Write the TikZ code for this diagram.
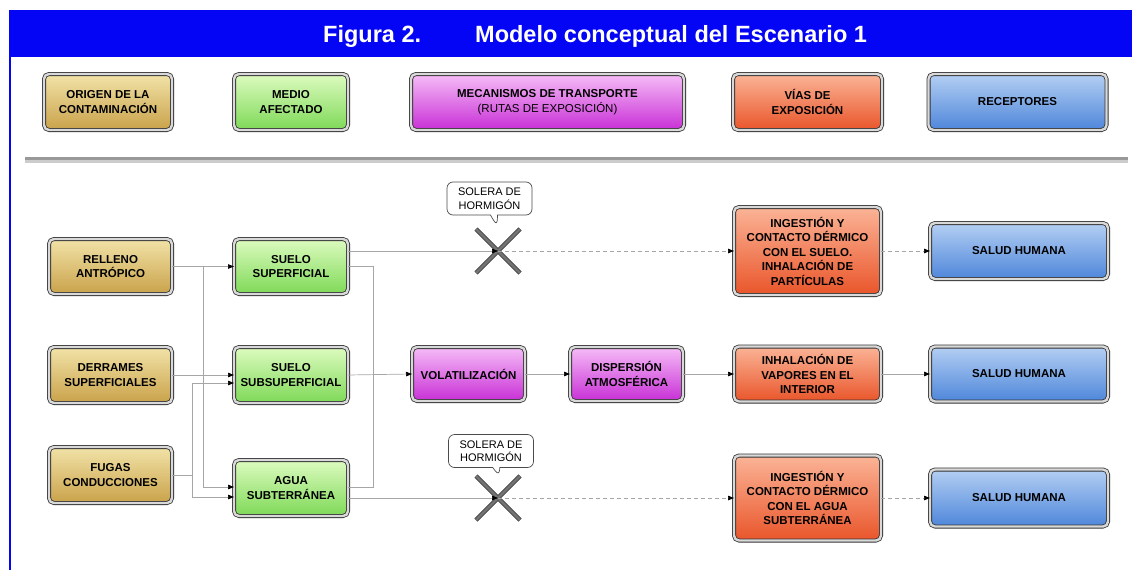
\documentclass[tikz,border=0pt]{standalone}
\usepackage{fontspec}
\setmainfont{Liberation Sans}
\usetikzlibrary{arrows.meta,positioning,shapes.callouts}

\definecolor{bannerblue}{HTML}{0505F5}
\definecolor{tanTop}{HTML}{F2E3A8}\definecolor{tanBot}{HTML}{C9A24A}
\definecolor{grnTop}{HTML}{DDFBC0}\definecolor{grnBot}{HTML}{7ED957}
\definecolor{magTop}{HTML}{F6BDF7}\definecolor{magBot}{HTML}{C82FD6}
\definecolor{orgTop}{HTML}{FBB497}\definecolor{orgBot}{HTML}{E9552A}
\definecolor{bluTop}{HTML}{B4CFF3}\definecolor{bluBot}{HTML}{4E86DA}

\tikzset{
  box/.style={draw=black!80, line width=0.8pt, double=black!15, double distance=2.4pt,
    rounded corners=5pt, inner sep=0pt, outer sep=0pt, align=center,
    font=\fontsize{11.5}{14.5}\selectfont\bfseries},
  origen/.style={box, top color=tanTop, bottom color=tanBot},
  medio/.style={box, top color=grnTop, bottom color=grnBot},
  transp/.style={box, top color=magTop, bottom color=magBot},
  vias/.style={box, top color=orgTop, bottom color=orgBot},
  recep/.style={box, top color=bluTop, bottom color=bluBot},
  conn/.style={draw=gray!70, line width=0.7pt},
  arr/.style={conn, -{Triangle[length=6pt,width=4.5pt,color=black]}},
  darr/.style={arr, dash pattern=on 4pt off 3pt},
  crossmark/.style={draw=black!75, line width=0.8pt, double=black!55, double distance=2.8pt},
  nota/.style={rectangle callout, draw=black!70, line width=0.7pt, rounded corners=6pt,
    fill=white, align=center, inner sep=0pt, minimum width=85pt, minimum height=33pt,
    font=\fontsize{11}{13.5}\selectfont},
  titletext/.style={text=white, font=\fontsize{23.5}{26}\selectfont\bfseries, inner sep=0pt}
}

\begin{document}
\begin{tikzpicture}[x=1pt, y=-1pt]
\useasboundingbox (0,0) rectangle (1132,570);

% banner
\fill[bannerblue] (9,10) rectangle (1132,57);
\fill[bannerblue] (9,57) rectangle (11,570);
\node[titletext, anchor=base west] (fig) at (323,42) {Figura 2.};
\node[titletext, anchor=base west] (tit) at (475,42) {Modelo conceptual del Escenario 1};

% legend
\node[origen, minimum width=128pt, minimum height=56pt] (lori) at (108,102) {ORIGEN DE LA\\CONTAMINACIÓN};
\node[medio, minimum width=114pt, minimum height=56pt] (lmed) at (291,102) {MEDIO\\AFECTADO};
\node[transp, minimum width=273pt, minimum height=56pt] (lmec) at (547.5,102) {MECANISMOS DE TRANSPORTE\\{\mdseries(RUTAS DE EXPOSICIÓN)}};
\node[vias, minimum width=149pt, minimum height=56pt] (lvia) at (807.5,102) {VÍAS DE\\EXPOSICIÓN};
\node[recep, minimum width=178pt, minimum height=56pt] (lrec) at (1017.5,102) {RECEPTORES};

% separator
\draw[gray!80, line width=3pt] (25,158.5) -- (1128,158.5);
\draw[gray!40, line width=3pt] (25,161.5) -- (1128,161.5);

% sources
\node[origen, minimum width=123pt, minimum height=55pt] (rel) at (110.5,266.5) {RELLENO\\ANTRÓPICO};
\node[origen, minimum width=123pt, minimum height=56pt] (der) at (110.5,375) {DERRAMES\\SUPERFICIALES};
\node[origen, minimum width=123pt, minimum height=56pt] (fug) at (110.5,475) {FUGAS\\CONDUCCIONES};

% media
\node[medio, minimum width=114pt, minimum height=55pt] (ssup) at (291,266.5) {SUELO\\SUPERFICIAL};
\node[medio, minimum width=114pt, minimum height=56pt] (ssub) at (291,375) {SUELO\\SUBSUPERFICIAL};
\node[medio, minimum width=114pt, minimum height=56pt] (agua) at (291,488) {AGUA\\SUBTERRÁNEA};

% transport
\node[transp, minimum width=113pt, minimum height=54pt] (vol) at (468.5,374) {VOLATILIZACIÓN};
\node[transp, minimum width=113pt, minimum height=54pt] (disp) at (626.5,374) {DISPERSIÓN\\ATMOSFÉRICA};

% exposure
\node[vias, minimum width=147pt, minimum height=88pt] (ing1) at (807.5,251) {INGESTIÓN Y\\CONTACTO DÉRMICO\\CON EL SUELO.\\INHALACIÓN DE\\PARTÍCULAS};
\node[vias, minimum width=147pt, minimum height=55pt] (inh) at (807.5,374) {INHALACIÓN DE\\VAPORES EN EL\\INTERIOR};
\node[vias, minimum width=147pt, minimum height=85pt] (ing2) at (807.5,498) {INGESTIÓN Y\\CONTACTO DÉRMICO\\CON EL AGUA\\SUBTERRÁNEA};

% receptors
\node[recep, minimum width=178pt, minimum height=56pt] (sal1) at (1019,251) {SALUD HUMANA};
\node[recep, minimum width=178pt, minimum height=55pt] (sal2) at (1019,374) {SALUD HUMANA};
\node[recep, minimum width=178pt, minimum height=57pt] (sal3) at (1019,498) {SALUD HUMANA};

% barriers
\coordinate (x1) at (498,251);
\coordinate (x2) at (498,498);
\node[nota, callout absolute pointer={(497,226)}] (sol1) at (489.5,198.5) {SOLERA DE\\HORMIGÓN};
\node[nota, callout absolute pointer={(499,476)}] (sol2) at (491,451) {SOLERA DE\\HORMIGÓN};
\draw[crossmark, shift={(x1)}] (-22,-22) -- (22,22) (-22,22) -- (22,-22);
\draw[crossmark, shift={(x2)}] (-22,-22) -- (22,22) (-22,22) -- (22,-22);

% junctions
\coordinate (j1) at (203,266.5);
\coordinate (j2) at (192,475);

% connectors
\draw[arr] (rel.east) -- (ssup.west);
\draw[arr] (j1) |- ([yshift=1pt]agua.west);
\draw[arr] (der.east) -- (ssub.west);
\draw[conn] (fug.east) -- (j2);
\draw[arr] (j2) |- ([yshift=-8pt]ssub.west);
\draw[arr] (j2) |- ([yshift=-9pt]agua.west);
\draw[conn] (ssup.east) -- ++(25,0) |- ([yshift=1pt]agua.east);
\draw[arr] ([yshift=15.5pt]ssup.east) -- (x1);
\draw[darr] (x1) -- (ing1.west);
\draw[arr] ([yshift=-10pt]agua.east) -- (x2);
\draw[darr] (x2) -- (ing2.west);
\draw[arr] (ssub.east) -- (vol.west);
\draw[arr] (vol) -- (disp);
\draw[arr] (disp) -- (inh);
\draw[arr] (inh) -- (sal2);
\draw[darr] (ing1) -- (sal1);
\draw[darr] (ing2) -- (sal3);
\end{tikzpicture}
\end{document}
